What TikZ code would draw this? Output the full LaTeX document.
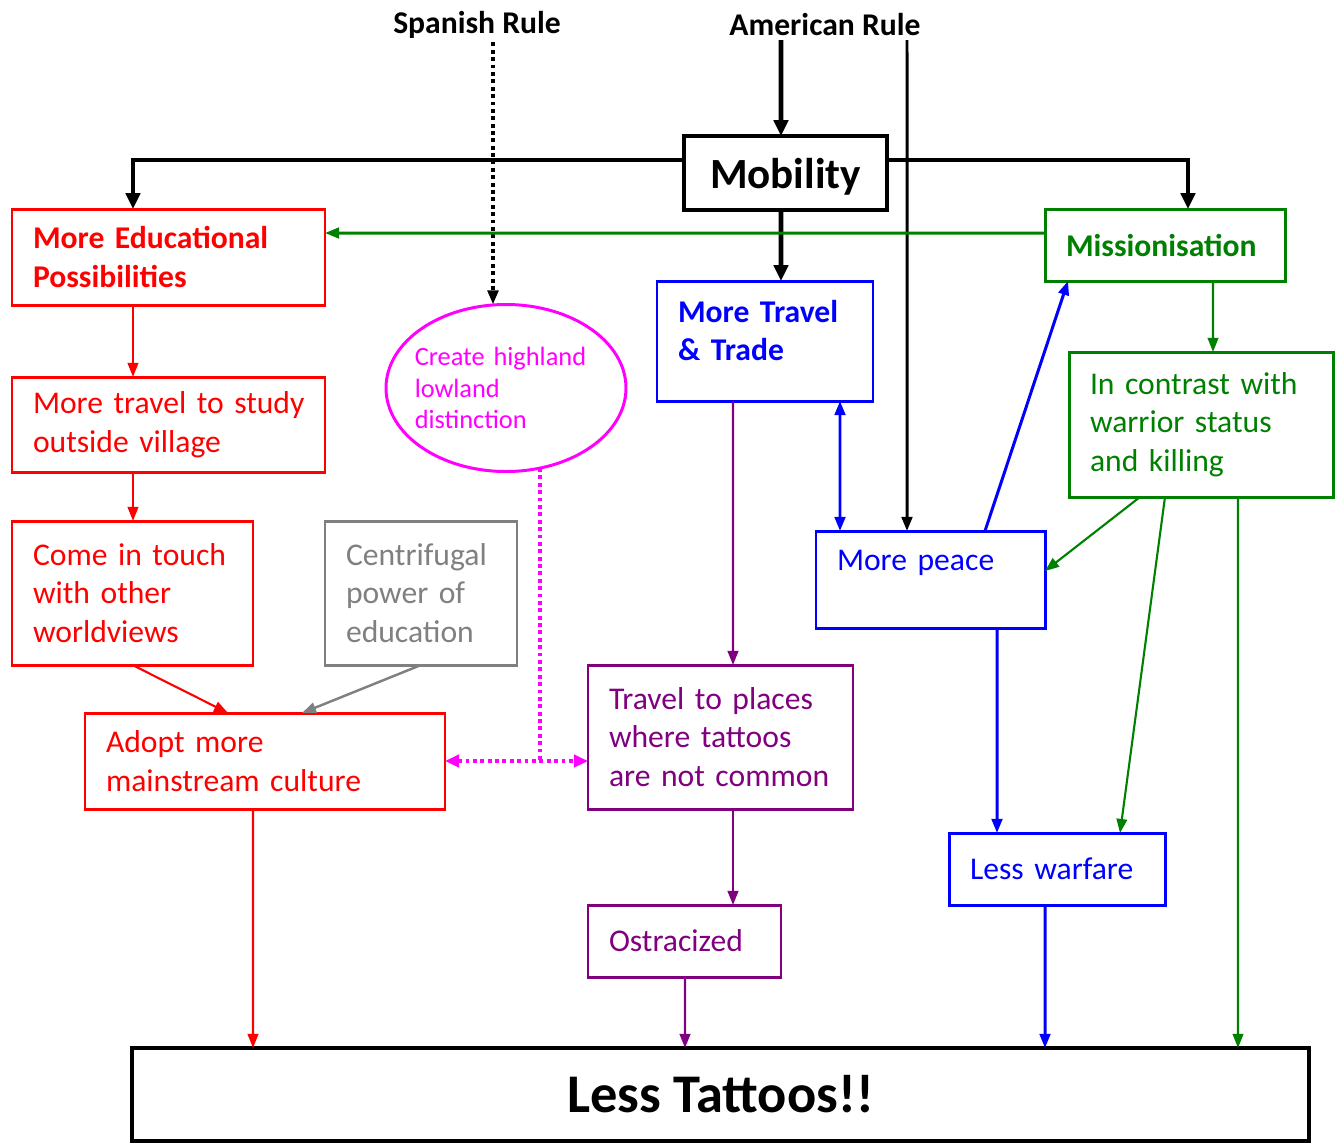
\documentclass[tikz,border=0pt]{standalone}
\usepackage{fontspec}
\setmainfont{Carlito}
\usetikzlibrary{arrows.meta,positioning,calc,shapes.geometric}
\definecolor{dkgreen}{RGB}{0,128,0}
\definecolor{purp}{RGB}{128,0,128}
\definecolor{pink}{RGB}{255,0,255}

\begin{document}
\begin{tikzpicture}[
  box/.style={draw, line width=1.7pt, anchor=north west, outer sep=0pt, inner xsep=0.42cm, inner ysep=2pt,
    align=left, font=\fontsize{18}{22}\selectfont},
  tip/.style={-{Triangle[length=8pt,width=6pt]}},
  bigtip/.style={-{Triangle[length=9pt,width=8pt]}},
  dots/.style={line width=2.4pt, dash pattern=on 2.2pt off 2pt},
  title/.style={font=\bfseries\fontsize{18}{22}\selectfont, inner ysep=2pt}
]
\useasboundingbox (0,0) rectangle (26.86,-22.88);

\node[title] (spanish) at (9.54,-0.5) {Spanish Rule};
\node[title] (american) at (16.5,-0.5) {American Rule};

\node[box, line width=2.8pt, minimum width=4.06cm, minimum height=1.48cm, align=center, text depth=0pt,
  font=\bfseries\fontsize{24.5}{28}\selectfont] (mob) at (13.68,-2.72) {Mobility};

\node[box, red, text width=5.42cm, minimum height=1.92cm, font=\bfseries\fontsize{18}{22}\selectfont]
  (edu) at (0.24,-4.18) {More Educational\\Possibilities};
\node[box, red, text width=5.42cm, minimum height=1.9cm] (trav) at (0.24,-7.54)
  {More~travel~to~study\\outside village};
\node[box, red, text width=3.98cm, minimum height=2.88cm] (touch) at (0.24,-10.42)
  {Come in touch\\with other\\worldviews};
\node[box, gray, text width=3.0cm, minimum height=2.88cm] (centri) at (6.5,-10.42)
  {Centrifugal\\power of\\education};
\node[box, red, text width=6.36cm, minimum height=1.92cm] (adopt) at (1.7,-14.26)
  {Adopt more\\mainstream culture};

\node[ellipse, draw=pink, text=pink, line width=1.7pt, outer sep=0pt, minimum width=4.8cm, minimum height=3.34cm,
  text width=3.65cm, inner xsep=-0.13cm, inner ysep=0pt, align=left,
  font=\fontsize{15}{18}\selectfont] (high) at (10.12,-7.76) {Create~highland\\lowland\\distinction};

\node[box, blue, text width=3.48cm, minimum height=2.4cm, text depth=34pt,
  font=\bfseries\fontsize{18}{22}\selectfont] (trade) at (13.14,-5.62) {More Travel\\\& Trade};
\node[box, purp, text width=4.46cm, minimum height=2.88cm] (places) at (11.76,-13.3)
  {Travel to places\\where tattoos\\are~not~common};
\node[box, purp, text width=3.02cm, minimum height=1.44cm] (ostra) at (11.76,-18.1) {Ostracized};

\node[box, dkgreen, text width=3.96cm, minimum height=1.44cm, font=\bfseries\fontsize{18}{22}\selectfont]
  (miss) at (20.9,-4.18) {Missionisation};
\node[box, dkgreen, text width=4.44cm, minimum height=2.9cm] (contrast) at (21.38,-7.04)
  {In contrast with\\warrior status\\and killing};
\node[box, blue, text width=3.74cm, minimum height=1.94cm, text depth=22pt] (peace) at (16.32,-10.62)
  {More peace};
\node[box, blue, text width=3.48cm, minimum height=1.44cm] (warfare) at (18.98,-16.66) {Less warfare};

\node[box, line width=2.8pt, minimum width=23.54cm, minimum height=1.86cm, align=center,
  font=\bfseries\fontsize{31}{34}\selectfont] (less) at (2.64,-20.96) {Less Tattoos!!};

\draw[dots, tip] ([xshift=0.32cm]spanish.south) -- ([xshift=-0.26cm]high.north);
\draw[line width=2.8pt, bigtip] ([xshift=-0.88cm]american.south) -- ([xshift=-0.09cm]mob.north);
\draw[line width=1.7pt, tip] ([xshift=1.64cm]american.south) -- ([xshift=1.82cm]peace.north west);
\draw[line width=2.8pt, bigtip] ([yshift=0.26cm]mob.west) -| ([xshift=2.42cm]edu.north west);
\draw[line width=2.8pt, bigtip] ([yshift=0.26cm]mob.east) -| ([xshift=2.86cm]miss.north west);
\draw[line width=2.8pt, bigtip] ([xshift=-0.09cm]mob.south) -- ([xshift=2.48cm]trade.north west);

\draw[dkgreen, line width=1.7pt, tip] ([yshift=0.24cm]miss.west) -- ([yshift=0.48cm]edu.east);
\draw[red, line width=1.2pt, tip] ([xshift=2.42cm]edu.south west) -- ([xshift=2.42cm]trav.north west);
\draw[red, line width=1.2pt, tip] ([xshift=2.42cm]trav.south west) -- ([xshift=2.42cm]touch.north west);
\draw[red, line width=1.2pt, tip] (touch.south) -- ([xshift=2.86cm]adopt.north west);
\draw[gray, line width=1.4pt, tip] (centri.south) -- ([xshift=4.34cm]adopt.north west);
\draw[red, line width=1.2pt, tip] ([xshift=3.36cm]adopt.south west) -- ([xshift=2.42cm]less.north west);

\draw[pink, dots] (high.-67) -- (high.-67 |- adopt.east);
\draw[pink, dots, {Triangle[length=8pt,width=7pt]}-{Triangle[length=8pt,width=7pt]}]
  (adopt.east) -- (adopt.east -| places.west);

\draw[purp, line width=1.4pt, tip] ([xshift=1.52cm]trade.south west) -- ([xshift=2.9cm]places.north west);
\draw[purp, line width=1.4pt, tip] ([xshift=2.9cm]places.south west) -- ([xshift=2.9cm]ostra.north west);
\draw[purp, line width=1.4pt, tip] ([xshift=1.94cm]ostra.south west) -- ([xshift=11.06cm]less.north west);

\draw[blue, line width=1.7pt, {Triangle[length=8pt,width=6pt]}-{Triangle[length=8pt,width=6pt]}]
  ([xshift=3.66cm]trade.south west) -- ([xshift=0.48cm]peace.north west);
\draw[blue, line width=1.7pt, tip] ([xshift=3.38cm]peace.north west) -- ([xshift=0.46cm]miss.south west);
\draw[dkgreen, line width=1.2pt, tip] ([xshift=3.36cm]miss.south west) -- ([xshift=2.88cm]contrast.north west);
\draw[dkgreen, line width=1.2pt, tip] ([xshift=1.42cm]contrast.south west) -- ([yshift=0.17cm]peace.east);
\draw[dkgreen, line width=1.2pt, tip] ([xshift=1.92cm]contrast.south west) -- ([xshift=3.42cm]warfare.north west);
\draw[dkgreen, line width=1.2pt, tip] ([xshift=3.38cm]contrast.south west) -- ([xshift=22.12cm]less.north west);
\draw[blue, line width=1.7pt, tip] ([xshift=3.62cm]peace.south west) -- ([xshift=0.96cm]warfare.north west);
\draw[blue, line width=1.7pt, tip] ([xshift=1.92cm]warfare.south west) -- ([xshift=18.26cm]less.north west);
\end{tikzpicture}
\end{document}
